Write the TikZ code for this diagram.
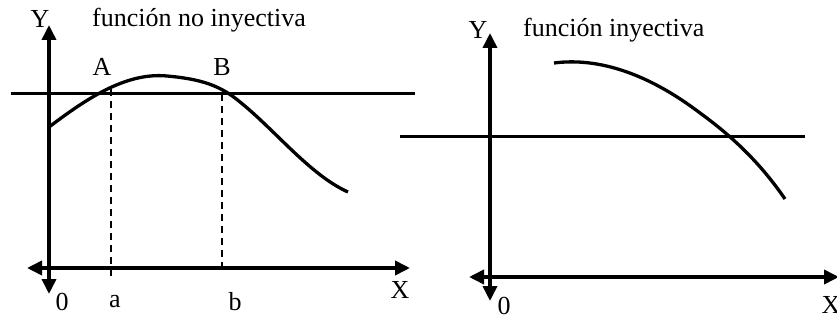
\documentclass[tikz,border=0pt]{standalone}
\usepackage{fontspec}
\setmainfont{Liberation Serif}
\usetikzlibrary{arrows.meta}
\begin{document}
\begin{tikzpicture}[x=1pt,y=-1pt,
  lbl/.style={inner sep=0pt,font=\fontsize{26}{28}\selectfont},
  axis/.style={line width=3.6pt,{Triangle[length=15pt,width=14pt]}-{Triangle[length=15pt,width=14pt]}},
  hline/.style={line width=3pt},
  curve/.style={line width=3.3pt},
  guide/.style={line width=2pt,dash pattern=on 7pt off 5pt}]
\useasboundingbox (0,0) rectangle (837,320);
% ---- left figure
\coordinate (Ly1) at (49,25);
\coordinate (Ly2) at (49,294);
\coordinate (Lx1) at (27,268);
\coordinate (Lx2) at (410,268);
\draw[axis] (Ly2) -- (Ly1);
\draw[axis] (Lx1) -- (Lx2);
\coordinate (Lh1) at (11,94);
\coordinate (Lh2) at (415,94);
\draw[hline] (Lh1) -- (Lh2);
\draw[curve] (49,127) .. controls (85,100) and (125,72) .. (167,76)
  .. controls (200,79) and (220,85) .. (240,102)
  .. controls (275,130) and (310,175) .. (348,192);
\coordinate (ga1) at (111,89);
\coordinate (ga2) at (111,277);
\coordinate (gb1) at (222,94);
\coordinate (gb2) at (222,268);
\draw[guide] (ga1) -- (ga2);
\draw[guide] (gb1) -- (gb2);
\node[lbl] (LY) at (40,19) {Y};
\node[lbl,anchor=west] (Ltitle) at (92,20) {función no inyectiva};
\node[lbl] (A) at (102,67) {A};
\node[lbl] (B) at (222,67) {B};
\node[lbl] (L0) at (62,302) {0};
\node[lbl] (La) at (115,302) {a};
\node[lbl] (Lb) at (235,302) {b};
\node[lbl] (LX) at (400,290) {X};
% ---- right figure
\coordinate (Ry1) at (490,33);
\coordinate (Ry2) at (490,301);
\coordinate (Rx1) at (469,277);
\coordinate (Rx2) at (839,277);
\draw[axis] (Ry2) -- (Ry1);
\draw[axis] (Rx1) -- (Rx2);
\coordinate (Rh1) at (400,137);
\coordinate (Rh2) at (805,137);
\draw[hline] (Rh1) -- (Rh2);
\draw[curve] (554,63) .. controls (600,57) and (650,75) .. (700,113)
  .. controls (740,142) and (765,170) .. (785,199);
\node[lbl] (RY) at (478,30) {Y};
\node[lbl,anchor=west] (Rtitle) at (523,30) {función inyectiva};
\node[lbl] (R0) at (504,306) {0};
\node[lbl] (RX) at (831,305) {X};
\end{tikzpicture}
\end{document}
